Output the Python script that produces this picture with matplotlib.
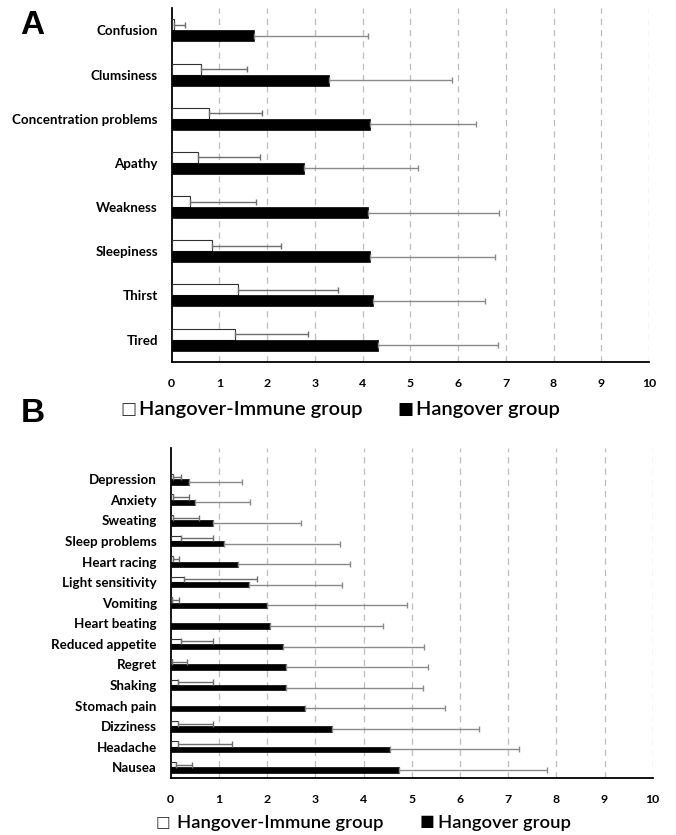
import numpy as np
import matplotlib.pyplot as plt

plt.rcParams['font.family'] = ['Lato', 'DejaVu Sans']

# Panel A: symptoms, top to bottom
cats_a = ['Confusion', 'Clumsiness', 'Concentration problems', 'Apathy',
          'Weakness', 'Sleepiness', 'Thirst', 'Tired']
immune_a = [0.05, 0.61, 0.78, 0.56, 0.38, 0.84, 1.39, 1.33]
immune_a_sd = [0.23, 0.97, 1.11, 1.28, 1.39, 1.46, 2.09, 1.53]
hang_a = [1.72, 3.29, 4.16, 2.78, 4.11, 4.16, 4.22, 4.33]
hang_a_sd = [2.39, 2.59, 2.22, 2.37, 2.74, 2.61, 2.35, 2.51]

# Panel B: symptoms, top to bottom
cats_b = ['Depression', 'Anxiety', 'Sweating', 'Sleep problems', 'Heart racing',
          'Light sensitivity', 'Vomiting', 'Heart beating', 'Reduced appetite',
          'Regret', 'Shaking', 'Stomach pain', 'Dizziness', 'Headache', 'Nausea']
immune_b = [0.05, 0.05, 0.05, 0.21, 0.04, 0.28, 0.03, 0.0, 0.21, 0.02, 0.16, 0.0, 0.16, 0.16, 0.11]
immune_b_sd = [0.16, 0.32, 0.54, 0.66, 0.14, 1.52, 0.15, 0.0, 0.66, 0.32, 0.71, 0.0, 0.71, 1.11, 0.33]
hang_b = [0.39, 0.50, 0.88, 1.11, 1.40, 1.62, 2.00, 2.06, 2.34, 2.39, 2.39, 2.79, 3.34, 4.56, 4.73]
hang_b_sd = [1.09, 1.15, 1.82, 2.40, 2.32, 1.93, 2.90, 2.34, 2.92, 2.94, 2.85, 2.91, 3.06, 2.67, 3.08]

xticks = list(range(0, 11))
groups = ['Hangover-Immune group', 'Hangover group']


def draw_panel(ax, cats, imm, imm_sd, hang, hang_sd, h, top_pad):
    y = np.arange(len(cats))
    ax.barh(y - h / 2, imm, height=h, color='white', edgecolor='#303030', linewidth=0.8, zorder=3)
    ax.barh(y + h / 2, hang, height=h, color='black', edgecolor='black', linewidth=0.5, zorder=3)
    imm_sd = np.array(imm_sd)
    hang_sd = np.array(hang_sd)
    m = imm_sd > 0
    ax.errorbar(np.array(imm)[m], (y - h / 2)[m], xerr=[np.zeros(m.sum()), imm_sd[m]],
                fmt='none', ecolor='#6e6e6e', elinewidth=1, capsize=2, capthick=1, zorder=4)
    ax.errorbar(hang, y + h / 2, xerr=[np.zeros(len(hang)), hang_sd],
                fmt='none', ecolor='#8a8a8a', elinewidth=1, capsize=2, capthick=1, zorder=4)
    ax.set_xlim(0, 10)
    ax.set_ylim(len(cats) - 0.5, -0.5 - top_pad)
    ax.set_yticks(y)
    ax.set_yticklabels(cats, fontsize=9.6, fontweight='bold')
    ax.set_xticks(xticks)
    ax.set_xticklabels([str(t) for t in xticks], fontsize=8.8, fontweight='bold')
    ax.tick_params(axis='both', length=0)
    ax.tick_params(axis='y', pad=10)
    ax.tick_params(axis='x', pad=12)
    for s in ['top', 'right']:
        ax.spines[s].set_visible(False)
    ax.spines['left'].set_linewidth(1.3)
    ax.spines['bottom'].set_linewidth(1.3)
    for t in xticks[1:]:
        ax.axvline(t, color='#bdbdbd', linestyle=(0, (5, 4)), linewidth=0.9, zorder=1)


fig = plt.figure(figsize=(6.76, 8.35), dpi=100)
W, H = 676, 835

ax_a = fig.add_axes([171.7 / W, 1 - 361.7 / H, (649 - 171.7) / W, (361.7 - 8.3) / H])
draw_panel(ax_a, cats_a, immune_a, immune_a_sd, hang_a, hang_a_sd, 0.25, 0)

ax_b = fig.add_axes([170.7 / W, 1 - 777.7 / H, (652.7 - 170.7) / W, (777.7 - 448.3) / H])
draw_panel(ax_b, cats_b, immune_b, immune_b_sd, hang_b, hang_b_sd, 0.26, 1.0)

fig.text(20 / W, 1 - 25 / H, 'A', fontsize=24, fontweight='bold', va='center', ha='left',
         family=['Liberation Sans', 'DejaVu Sans'])
fig.text(21 / W, 1 - 414 / H, 'B', fontsize=24, fontweight='bold', va='center', ha='left',
         family=['Liberation Sans', 'DejaVu Sans'])


def legend_row(yc, x_box1, x_txt1, x_box2, x_txt2, size):
    sym_kw = dict(fontsize=size * 0.85, va='center', ha='left', family='DejaVu Sans')
    txt_kw = dict(fontsize=size, fontweight='semibold', va='center', ha='left')
    fig.text(x_box1 / W, 1 - (yc - 1) / H, '\u25a1', color='#333333', **sym_kw)
    fig.text(x_txt1 / W, 1 - yc / H, groups[0], **txt_kw)
    fig.text(x_box2 / W, 1 - (yc - 1) / H, '\u25a0', **sym_kw)
    fig.text(x_txt2 / W, 1 - yc / H, groups[1], **txt_kw)


legend_row(410, 120, 139, 397, 416, 14.4)
legend_row(823, 156, 177, 420, 438, 13.2)

fig.savefig('out.png', dpi=100)
